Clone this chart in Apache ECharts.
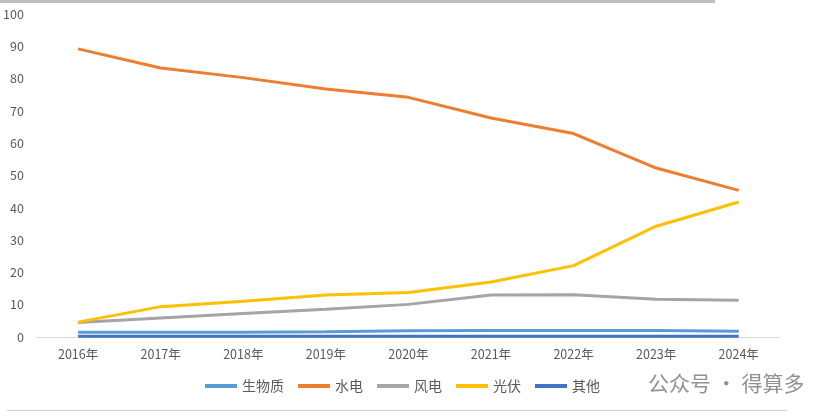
<!DOCTYPE html>
<html>
<head>
<meta charset="utf-8">
<script src="https://cdn.jsdelivr.net/npm/echarts@6/dist/echarts.min.js"></script>
<style>
  html, body { margin: 0; padding: 0; background: #fff; }
  #chart { width: 831px; height: 420px; }
</style>
</head>
<body>
<div id="chart"></div>
<script>
const years = ['2016年', '2017年', '2018年', '2019年', '2020年', '2021年', '2022年', '2023年', '2024年'];
const biomass = [1.5, 1.5, 1.5, 1.6, 1.9, 2.0, 2.0, 2.0, 1.8];
const hydro = [89.2, 83.3, 80.3, 76.8, 74.2, 67.8, 63.0, 52.3, 45.4];
const wind = [4.5, 5.9, 7.3, 8.6, 10.1, 13.0, 13.1, 11.7, 11.4];
const solar = [4.6, 9.4, 11.1, 13.0, 13.8, 17.0, 22.1, 34.3, 41.8];
const other = [0.2, 0.2, 0.2, 0.2, 0.2, 0.2, 0.2, 0.2, 0.2];

const chart = echarts.init(document.getElementById('chart'));

const mkLine = (name, data, color) => ({
  name,
  type: 'line',
  data,
  symbol: 'none',
  smooth: false,
  lineStyle: { width: 3, color },
  itemStyle: { color }
});

chart.setOption({
  animation: false,
  textStyle: { fontFamily: '"Noto Sans CJK SC", "Noto Sans", sans-serif' },
  grid: { left: 33, right: 51, top: 14, bottom: 83 },
  legend: {
    bottom: 22,
    left: 200,
    itemWidth: 32,
    itemHeight: 4,
    itemGap: 14,
    icon: 'rect',
    textStyle: { fontSize: 14, color: '#595959' },
    data: ['生物质', '水电', '风电', '光伏', '其他']
  },
  xAxis: {
    type: 'category',
    data: years,
    boundaryGap: true,
    axisLine: { lineStyle: { color: '#d9d9d9', width: 1 } },
    axisTick: { show: false },
    axisLabel: { fontSize: 12.5, color: '#595959', margin: 11 }
  },
  yAxis: {
    type: 'value',
    min: 0,
    max: 100,
    interval: 10,
    splitLine: { show: false },
    axisLine: { show: false },
    axisTick: { show: false },
    axisLabel: { fontSize: 12.5, color: '#595959', margin: 13 }
  },
  graphic: [
    { type: 'rect', shape: { x: 0, y: 0, width: 715, height: 3 }, style: { fill: '#bfbfbf' } },
    { type: 'rect', shape: { x: 7, y: 410, width: 780, height: 1 }, style: { fill: '#d0d0d0' } },
    { type: 'text', left: 648, top: 373, style: { text: '公众号 · 得算多', fontSize: 21, fill: 'rgba(110,110,110,0.75)', fontFamily: '"Noto Sans CJK SC", sans-serif' } }
  ],
  series: [
    mkLine('生物质', biomass, '#5b9bd5'),
    mkLine('水电', hydro, '#ed7d31'),
    mkLine('风电', wind, '#a5a5a5'),
    mkLine('光伏', solar, '#ffc000'),
    mkLine('其他', other, '#4472c4')
  ]
});
</script>
</body>
</html>
